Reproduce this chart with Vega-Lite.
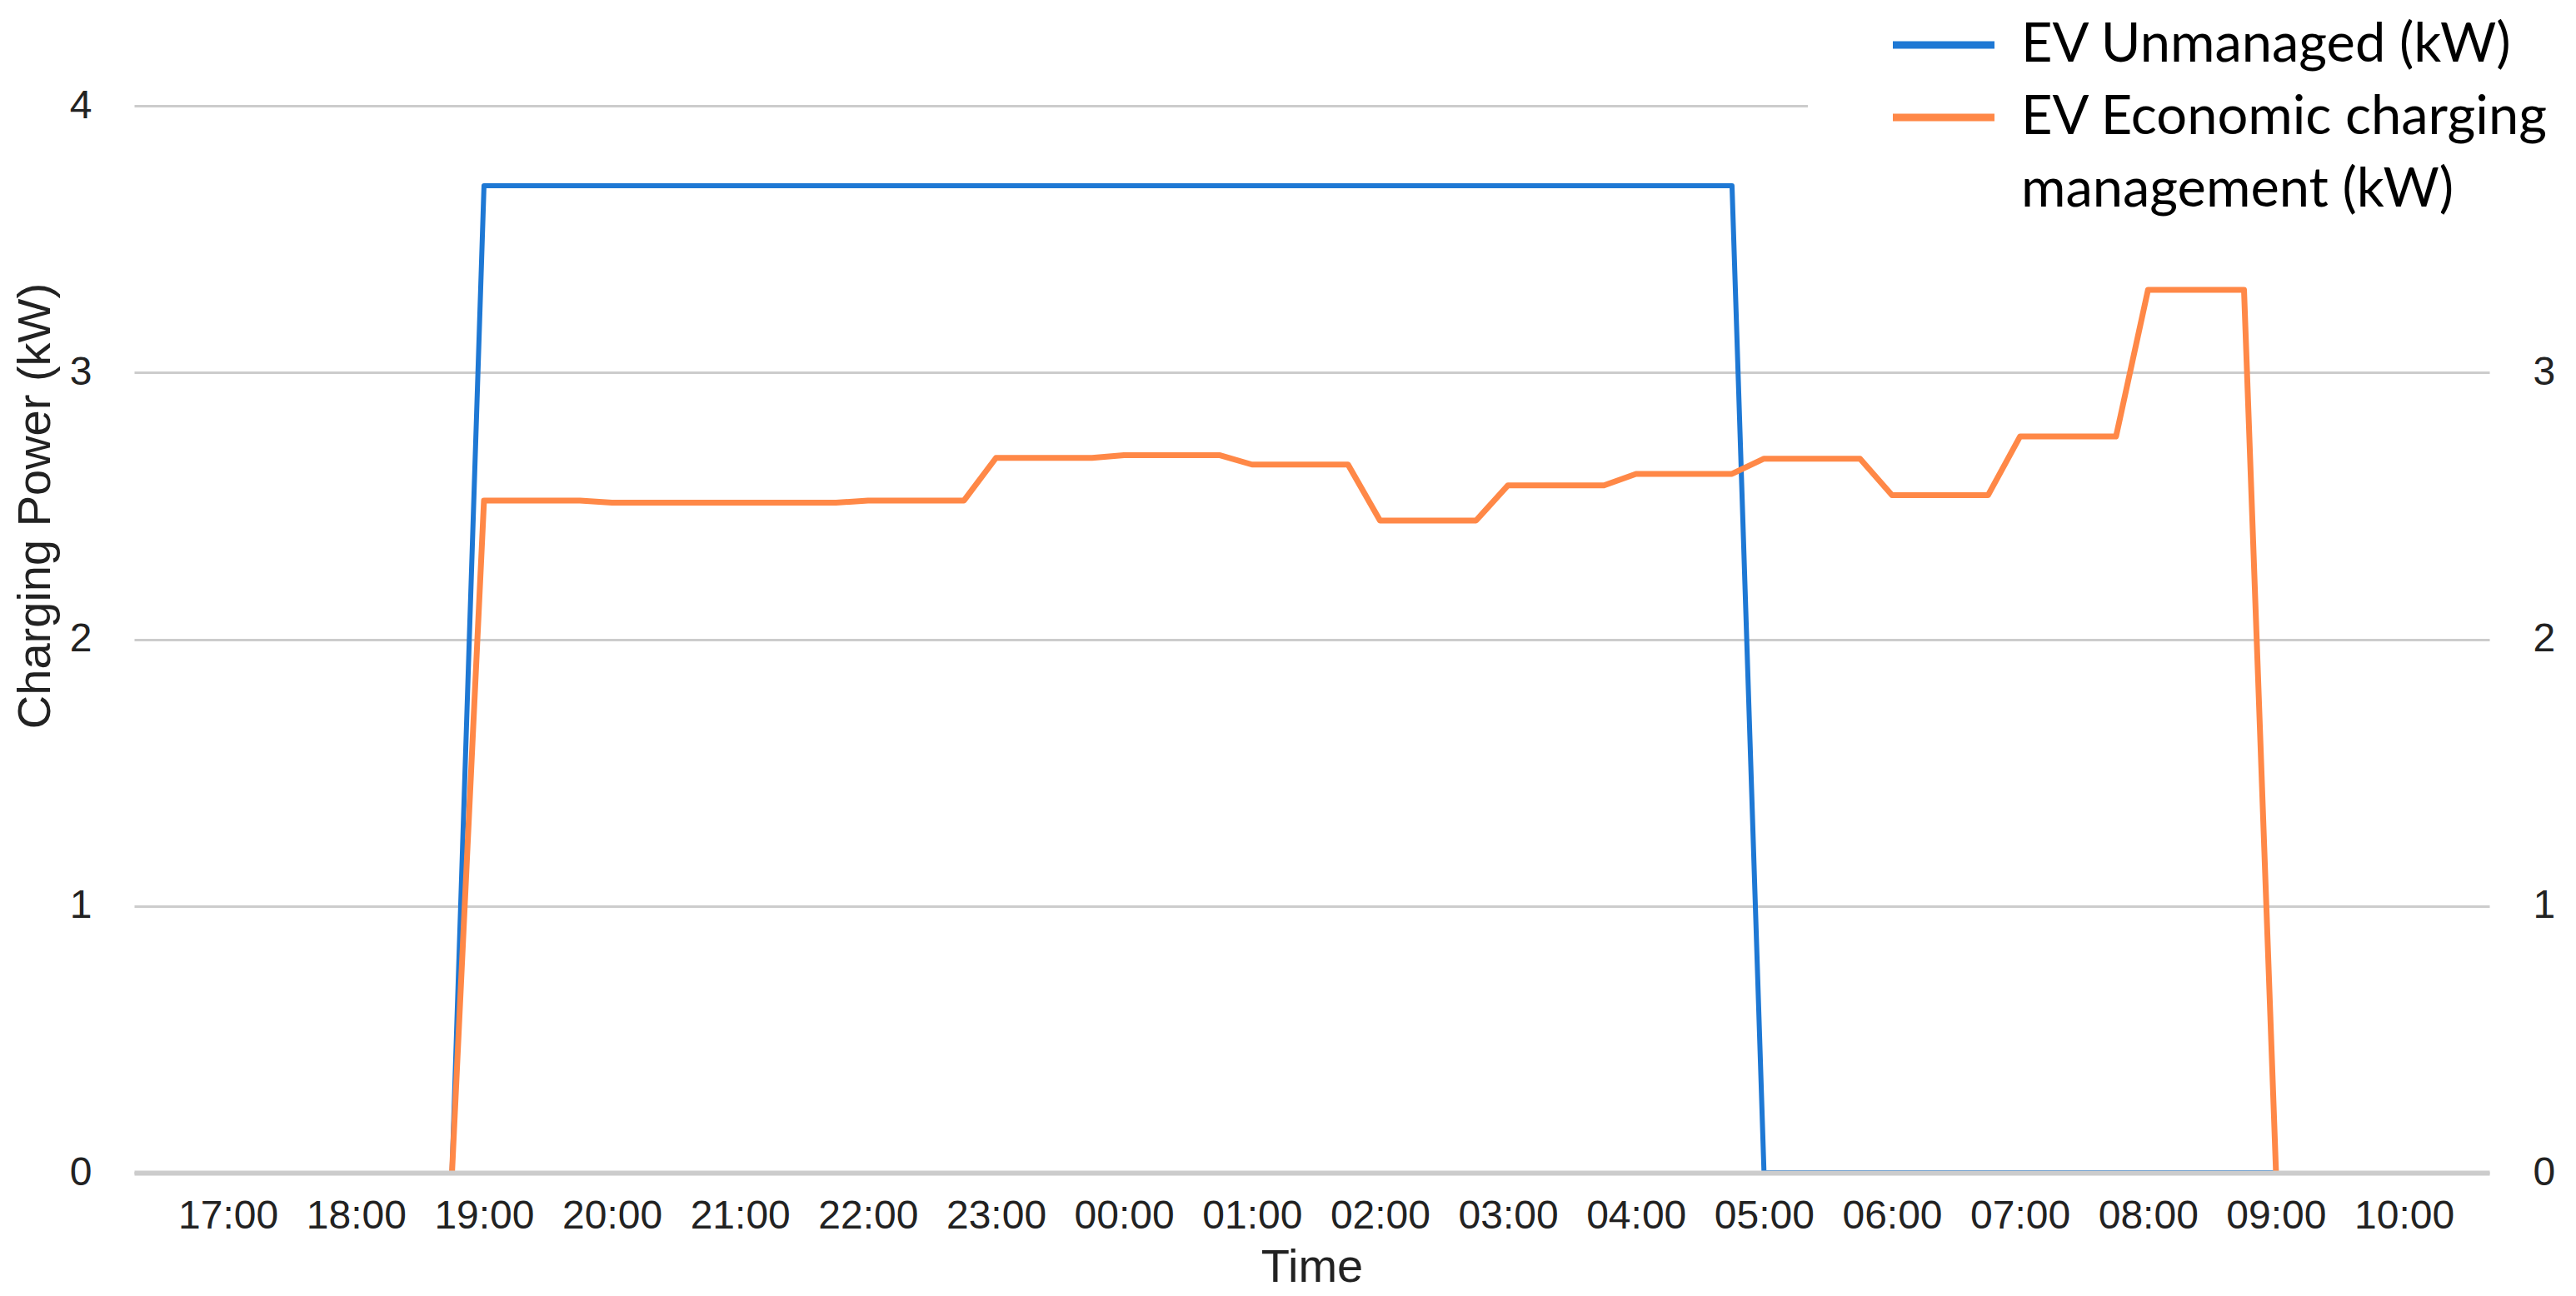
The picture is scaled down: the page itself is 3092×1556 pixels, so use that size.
{
  "$schema": "https://vega.github.io/schema/vega-lite/v6.json",
  "autosize": {"type": "none"},
  "width": 2827,
  "height": 1281,
  "padding": {"left": 161, "top": 127, "right": 104, "bottom": 148},
  "background": "white",
  "config": {"view": {"stroke": null}},
  "data": {
    "values": [
      {"time": "2024-01-01T18:45", "series": "EV Unmanaged (kW)", "kW": 0},
      {"time": "2024-01-01T19:00", "series": "EV Unmanaged (kW)", "kW": 3.7},
      {"time": "2024-01-02T04:45", "series": "EV Unmanaged (kW)", "kW": 3.7},
      {"time": "2024-01-02T05:00", "series": "EV Unmanaged (kW)", "kW": 0},
      {"time": "2024-01-02T09:00", "series": "EV Unmanaged (kW)", "kW": 0},
      {"time": "2024-01-01T18:45", "series": "EV Economic charging management (kW)", "kW": 0},
      {"time": "2024-01-01T19:00", "series": "EV Economic charging management (kW)", "kW": 2.52},
      {"time": "2024-01-01T19:45", "series": "EV Economic charging management (kW)", "kW": 2.52},
      {"time": "2024-01-01T20:00", "series": "EV Economic charging management (kW)", "kW": 2.512},
      {"time": "2024-01-01T21:45", "series": "EV Economic charging management (kW)", "kW": 2.512},
      {"time": "2024-01-01T22:00", "series": "EV Economic charging management (kW)", "kW": 2.52},
      {"time": "2024-01-01T22:45", "series": "EV Economic charging management (kW)", "kW": 2.52},
      {"time": "2024-01-01T23:00", "series": "EV Economic charging management (kW)", "kW": 2.68},
      {"time": "2024-01-01T23:45", "series": "EV Economic charging management (kW)", "kW": 2.68},
      {"time": "2024-01-02T00:00", "series": "EV Economic charging management (kW)", "kW": 2.69},
      {"time": "2024-01-02T00:45", "series": "EV Economic charging management (kW)", "kW": 2.69},
      {"time": "2024-01-02T01:00", "series": "EV Economic charging management (kW)", "kW": 2.655},
      {"time": "2024-01-02T01:45", "series": "EV Economic charging management (kW)", "kW": 2.655},
      {"time": "2024-01-02T02:00", "series": "EV Economic charging management (kW)", "kW": 2.445},
      {"time": "2024-01-02T02:45", "series": "EV Economic charging management (kW)", "kW": 2.445},
      {"time": "2024-01-02T03:00", "series": "EV Economic charging management (kW)", "kW": 2.577},
      {"time": "2024-01-02T03:45", "series": "EV Economic charging management (kW)", "kW": 2.577},
      {"time": "2024-01-02T04:00", "series": "EV Economic charging management (kW)", "kW": 2.62},
      {"time": "2024-01-02T04:45", "series": "EV Economic charging management (kW)", "kW": 2.62},
      {"time": "2024-01-02T05:00", "series": "EV Economic charging management (kW)", "kW": 2.677},
      {"time": "2024-01-02T05:45", "series": "EV Economic charging management (kW)", "kW": 2.677},
      {"time": "2024-01-02T06:00", "series": "EV Economic charging management (kW)", "kW": 2.54},
      {"time": "2024-01-02T06:45", "series": "EV Economic charging management (kW)", "kW": 2.54},
      {"time": "2024-01-02T07:00", "series": "EV Economic charging management (kW)", "kW": 2.76},
      {"time": "2024-01-02T07:45", "series": "EV Economic charging management (kW)", "kW": 2.76},
      {"time": "2024-01-02T08:00", "series": "EV Economic charging management (kW)", "kW": 3.31},
      {"time": "2024-01-02T08:45", "series": "EV Economic charging management (kW)", "kW": 3.31},
      {"time": "2024-01-02T09:00", "series": "EV Economic charging management (kW)", "kW": 0}
    ]
  },
  "encoding": {
    "x": {
      "field": "time",
      "type": "temporal",
      "title": "Time",
      "scale": {
        "domain": [
          {"year": 2024, "month": 1, "date": 1, "hours": 16, "minutes": 16},
          {"year": 2024, "month": 1, "date": 2, "hours": 10, "minutes": 40}
        ]
      },
      "axis": {
        "values": [
          {"year": 2024, "month": 1, "date": 1, "hours": 17},
          {"year": 2024, "month": 1, "date": 1, "hours": 18},
          {"year": 2024, "month": 1, "date": 1, "hours": 19},
          {"year": 2024, "month": 1, "date": 1, "hours": 20},
          {"year": 2024, "month": 1, "date": 1, "hours": 21},
          {"year": 2024, "month": 1, "date": 1, "hours": 22},
          {"year": 2024, "month": 1, "date": 1, "hours": 23},
          {"year": 2024, "month": 1, "date": 2, "hours": 0},
          {"year": 2024, "month": 1, "date": 2, "hours": 1},
          {"year": 2024, "month": 1, "date": 2, "hours": 2},
          {"year": 2024, "month": 1, "date": 2, "hours": 3},
          {"year": 2024, "month": 1, "date": 2, "hours": 4},
          {"year": 2024, "month": 1, "date": 2, "hours": 5},
          {"year": 2024, "month": 1, "date": 2, "hours": 6},
          {"year": 2024, "month": 1, "date": 2, "hours": 7},
          {"year": 2024, "month": 1, "date": 2, "hours": 8},
          {"year": 2024, "month": 1, "date": 2, "hours": 9},
          {"year": 2024, "month": 1, "date": 2, "hours": 10}
        ],
        "format": "%H:%M",
        "grid": false,
        "ticks": false,
        "tickSize": 0,
        "domain": true,
        "domainColor": "#cccccc",
        "domainWidth": 6,
        "zindex": 1,
        "labelFont": "Liberation Sans",
        "labelFontSize": 48,
        "labelColor": "#222222",
        "labelPadding": 28,
        "labelOverlap": false,
        "labelFlush": false,
        "titleFont": "Liberation Sans",
        "titleFontSize": 56,
        "titleFontWeight": "normal",
        "titleColor": "#222222",
        "titleBaseline": "alphabetic",
        "titleY": 130
      }
    },
    "color": {
      "field": "series",
      "type": "nominal",
      "scale": {
        "domain": ["EV Unmanaged (kW)", "EV Economic charging management (kW)", "management (kW)"],
        "range": ["#1E78D4", "#FF8847", "rgba(0,0,0,0)"]
      },
      "legend": {
        "title": null,
        "orient": "none",
        "legendX": 2009,
        "legendY": -126,
        "direction": "vertical",
        "fillColor": "white",
        "padding": 18,
        "symbolOffset": 110,
        "symbolType": "M-2,0L2,0",
        "symbolStrokeWidth": 9,
        "symbolSize": 3721,
        "labelFont": "Lato",
        "labelFontSize": 65,
        "labelColor": "#000000",
        "labelOffset": 58,
        "labelLimit": 1000,
        "rowPadding": 19,
        "labelExpr": "datum.value === 'EV Economic charging management (kW)' ? 'EV Economic charging' : datum.label"
      }
    }
  },
  "layer": [
    {
      "transform": [{"filter": "datum.series === 'EV Unmanaged (kW)'"}],
      "mark": {"type": "line", "strokeWidth": 6, "strokeJoin": "round"},
      "encoding": {
        "y": {
          "field": "kW",
          "type": "quantitative",
          "scale": {"domain": [0, 4], "nice": false},
          "axis": {
            "orient": "left",
            "values": [0, 1, 2, 3, 4],
            "grid": true,
            "gridColor": "#cccccc",
            "gridWidth": 3,
            "domain": false,
            "ticks": false,
            "tickSize": 0,
            "labelFont": "Liberation Sans",
            "labelFontSize": 48,
            "labelColor": "#222222",
            "labelPadding": 51,
            "title": "Charging Power (kW)",
            "titleFont": "Liberation Sans",
            "titleFontSize": 56,
            "titleFontWeight": "normal",
            "titleColor": "#222222",
            "titleX": -119,
            "titleY": 480,
            "titleBaseline": "middle",
            "titleAlign": "center"
          }
        }
      }
    },
    {
      "transform": [{"filter": "datum.series === 'EV Economic charging management (kW)'"}],
      "mark": {"type": "line", "strokeWidth": 7, "strokeJoin": "round"},
      "encoding": {
        "y": {
          "field": "kW",
          "type": "quantitative",
          "scale": {"domain": [0, 4], "nice": false},
          "axis": {
            "orient": "right",
            "values": [0, 1, 2, 3],
            "grid": false,
            "domain": false,
            "ticks": false,
            "tickSize": 0,
            "labelFont": "Liberation Sans",
            "labelFontSize": 48,
            "labelColor": "#222222",
            "labelPadding": 52,
            "title": null
          }
        }
      }
    }
  ],
  "resolve": {"scale": {"y": "shared"}, "axis": {"y": "independent"}}
}
